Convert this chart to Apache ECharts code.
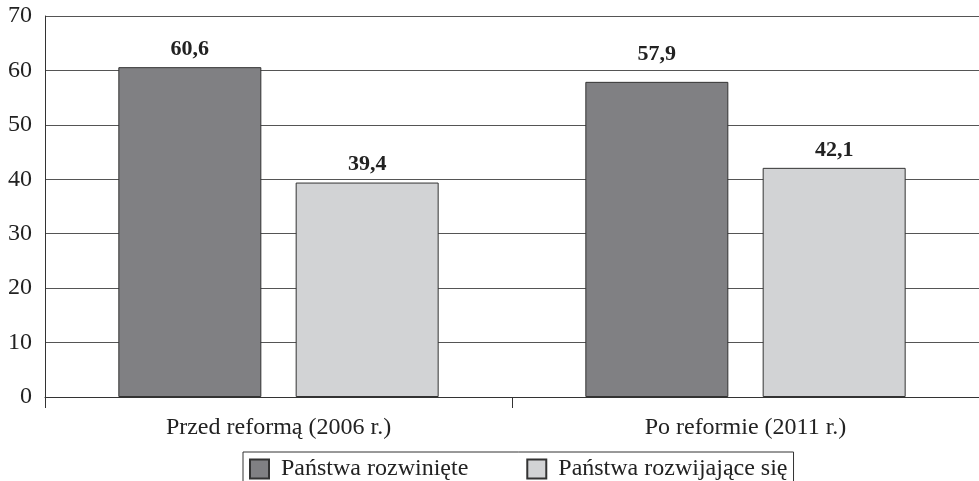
<!DOCTYPE html>
<html>
<head>
<meta charset="utf-8">
<script src="https://cdn.jsdelivr.net/npm/echarts@6/dist/echarts.min.js"></script>
<style>
  html, body { margin: 0; padding: 0; background: #fff; }
  #chart { width: 979px; height: 481px; }
</style>
</head>
<body>
<div id="chart"></div>
<script>
// dane z wykresu
const categories = ['Przed reformą (2006 r.)', 'Po reformie (2011 r.)'];
const developed = [60.6, 57.9];
const developing = [39.4, 42.1];
const seriesNames = ['Państwa rozwinięte', 'Państwa rozwijające się'];

const font = '"Liberation Serif", "Times New Roman", serif';
const fmt = v => v.toFixed(1).replace('.', ',');

const chart = echarts.init(document.getElementById('chart'));

const labelBase = {
  show: true,
  position: 'top',
  distance: 7,
  fontFamily: font,
  fontSize: 22,
  fontWeight: 'bold',
  color: '#222',
  formatter: p => fmt(p.value)
};

chart.setOption({
  animation: false,
  textStyle: { fontFamily: font },
  grid: { left: 45, top: 16, width: 934, height: 381 },
  legend: {
    data: seriesNames,
    left: 243,
    top: 452,
    padding: [5, 6, 12, 6],
    itemGap: 58,
    itemWidth: 19,
    itemHeight: 19,
    icon: 'rect',
    borderColor: '#333',
    borderWidth: 1,
    textStyle: { fontFamily: font, fontSize: 24, color: '#222', padding: [0, 0, 0, 7] }
  },
  xAxis: {
    type: 'category',
    data: categories,
    axisLine: { lineStyle: { color: '#333', width: 1 } },
    axisTick: { show: true, length: 11, lineStyle: { color: '#333' } },
    axisLabel: { fontFamily: font, fontSize: 24, color: '#222', margin: 19 }
  },
  yAxis: {
    type: 'value',
    min: 0,
    max: 70,
    interval: 10,
    axisLine: { show: true, lineStyle: { color: '#333', width: 1 } },
    axisTick: { show: false },
    axisLabel: { fontFamily: font, fontSize: 24, color: '#222', margin: 13 },
    splitLine: { lineStyle: { color: '#555', width: 1 } }
  },
  series: [
    {
      name: seriesNames[0],
      type: 'bar',
      barWidth: 143,
      barGap: '24%',
      itemStyle: { color: '#808083', borderColor: '#333', borderWidth: 1 },
      label: labelBase,
      data: developed.map((v, i) => ({ value: v, label: { distance: i === 1 ? 17 : 7 } }))
    },
    {
      name: seriesNames[1],
      type: 'bar',
      barWidth: 143,
      itemStyle: { color: '#d2d3d5', borderColor: '#333', borderWidth: 1 },
      label: labelBase,
      data: developing
    }
  ]
});

window.addEventListener('resize', () => chart.resize());
</script>
</body>
</html>
